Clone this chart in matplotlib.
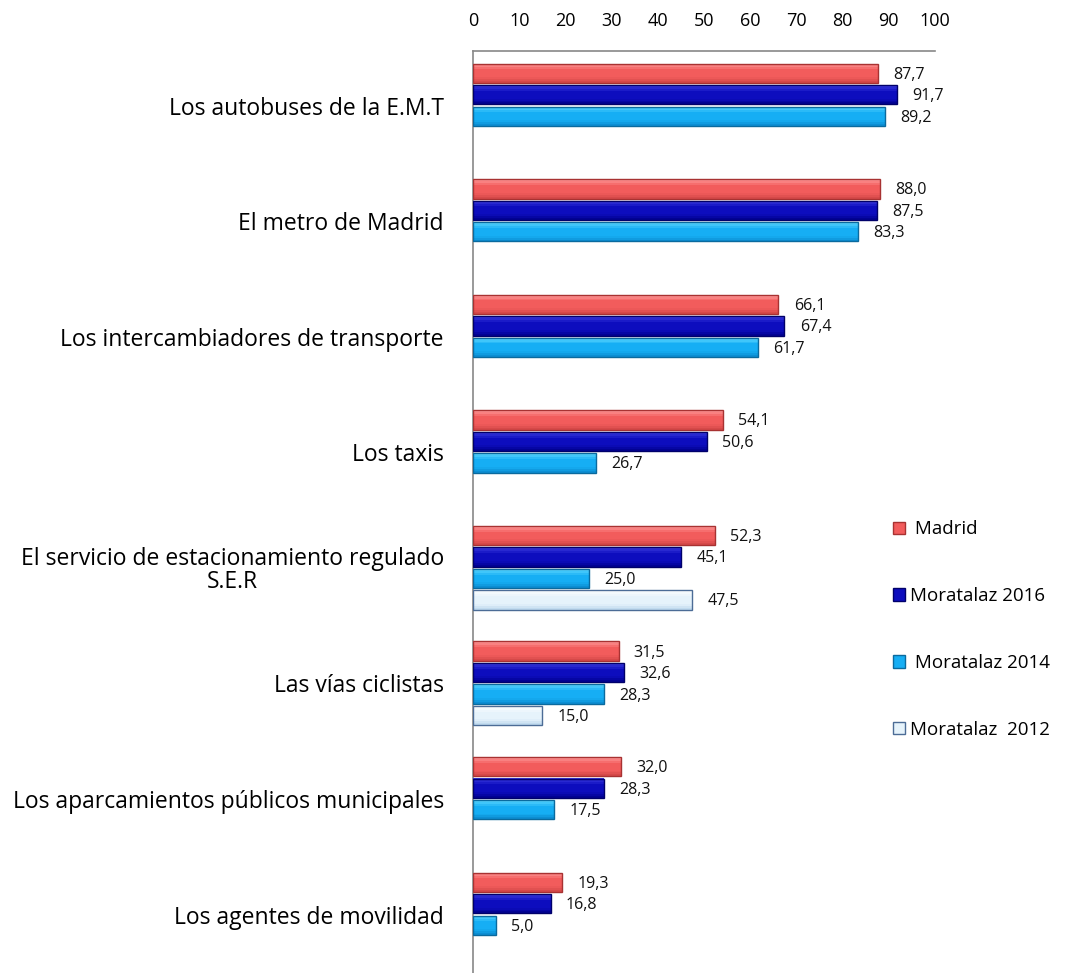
import matplotlib.pyplot as plt
import matplotlib.colors as mcolors
import numpy as np

categories = ["Los autobuses de la E.M.T", "El metro de Madrid",
              "Los intercambiadores de transporte", "Los taxis",
              "El servicio de estacionamiento regulado\nS.E.R", "Las vías ciclistas",
              "Los aparcamientos públicos municipales", "Los agentes de movilidad"]
madrid = [87.7, 88.0, 66.1, 54.1, 52.3, 31.5, 32.0, 19.3]
mora_2016 = [91.7, 87.5, 67.4, 50.6, 45.1, 32.6, 28.3, 16.8]
mora_2014 = [89.2, 83.3, 61.7, 26.7, 25.0, 28.3, 17.5, 5.0]
mora_2012 = [None, None, None, None, 47.5, 15.0, None, None]
series_names = [" Madrid", "Moratalaz 2016", " Moratalaz 2014", "Moratalaz  2012"]
xticks = [0, 10, 20, 30, 40, 50, 60, 70, 80, 90, 100]

# face, edge, light top, dark bottom
styles = [("#F25C5C", "#A83232", "#FF9C9C", "#D04545"),
          ("#0D0DBE", "#00006A", "#3D3DE0", "#00008A"),
          ("#16AEF4", "#0A6A9E", "#5FD8FF", "#0A88CC"),
          ("#E6F3FB", "#4C6C96", "#FFFFFF", "#B9D6EC")]

plt.rcParams['font.family'] = ['Open Sans', 'DejaVu Sans']


def blend(c1, c2, t):
    a = np.array(mcolors.to_rgb(c1))
    b = np.array(mcolors.to_rgb(c2))
    return tuple(a + (b - a) * t)


fig = plt.figure(figsize=(10.89, 9.73), dpi=100)
ax = fig.add_axes([473 / 1089, 0, 462 / 1089, 922 / 973])

step = 0.186
h = step * 0.9
nstrip = 10
y = np.arange(len(categories))
handles = []
for j, vals in enumerate([madrid, mora_2016, mora_2014, mora_2012]):
    face, edge, light, dark = styles[j]
    idx = [i for i, v in enumerate(vals) if v is not None]
    v = np.array([vals[i] for i in idx])
    yy = y[idx] + (j - 1.5) * step
    # vertical shading, light on top, dark at the bottom
    for k in range(nstrip):
        t = (k + 0.5) / nstrip
        if t < 0.35:
            c = blend(light, face, t / 0.35)
        elif t < 0.7:
            c = face
        else:
            c = blend(face, dark, (t - 0.7) / 0.3)
        ax.barh(yy - h / 2 + (k + 0.5) * h / nstrip, v, height=h / nstrip * 1.05,
                color=c, linewidth=0, zorder=3)
    ax.barh(yy, v, height=h, edgecolor=edge, linewidth=1.0, fill=False, zorder=4)
    handles.append(plt.Rectangle((0, 0), 1, 1, facecolor=face, edgecolor=edge, linewidth=1.0))
    for yi, vi in zip(yy, v):
        ax.annotate(f"{vi:.1f}".replace(".", ","), (vi, yi), xytext=(11, -1),
                    textcoords="offset points", va="center", ha="left",
                    fontsize=11.5, color="#111111")

ax.set_xlim(0, 100)
ax.set_ylim(7.506, -0.4716)
ax.xaxis.tick_top()
ax.set_xticks(xticks)
ax.tick_params(axis="x", length=0, pad=15, labelsize=13)
ax.set_yticks(y)
ax.set_yticklabels(categories, fontsize=16.5, ha="right", multialignment="center",
                   linespacing=0.95)
ax.tick_params(axis="y", length=0, pad=21)
for s in ["right", "bottom"]:
    ax.spines[s].set_visible(False)
for s in ["top", "left"]:
    ax.spines[s].set_color("#888888")
    ax.spines[s].set_linewidth(1.2)

fig.legend(handles, series_names, loc="center left", bbox_to_anchor=(0.811, 0.353),
           frameon=False, fontsize=13.5, handlelength=0.65, handleheight=0.65,
           labelspacing=2.6, handletextpad=0.3, borderpad=0)

fig.savefig("out.png", dpi=100)
